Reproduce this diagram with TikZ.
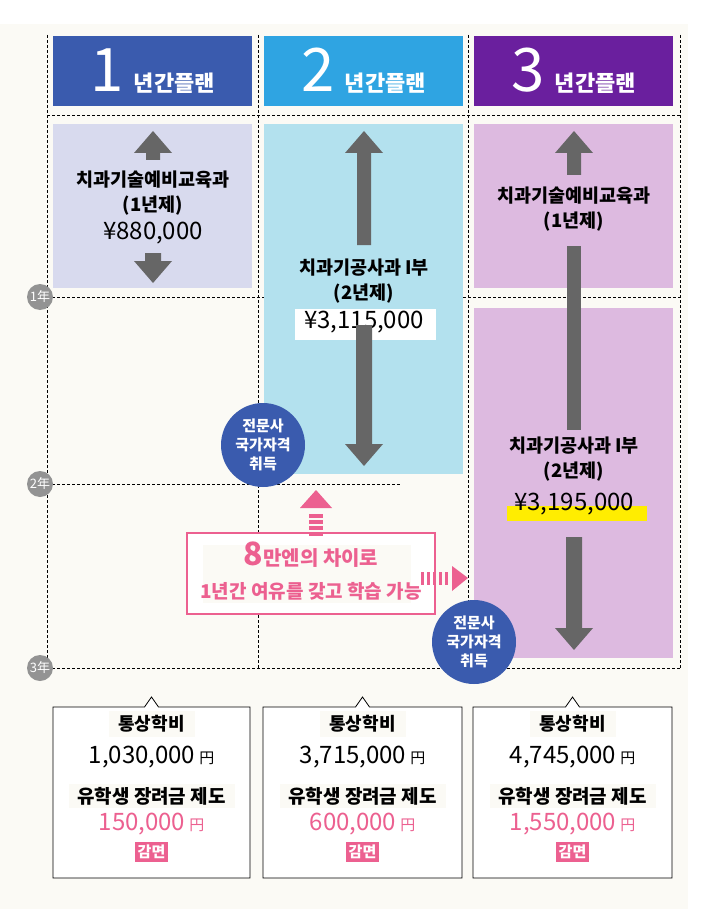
\documentclass[tikz,border=0pt]{standalone}
\usepackage{fontspec}
\setmainfont{Noto Sans CJK KR}
\newcommand{\kb}{\bfseries}
\usetikzlibrary{arrows.meta}
\definecolor{cream}{HTML}{FBFAF5}
\definecolor{hA}{HTML}{3A5BAE}
\definecolor{hB}{HTML}{2FA4E2}
\definecolor{hC}{HTML}{6A1F9E}
\definecolor{bA}{HTML}{D8DAEE}
\definecolor{bB}{HTML}{B3E1EE}
\definecolor{bC}{HTML}{DDBAE0}
\definecolor{gr}{HTML}{666666}
\definecolor{pk}{HTML}{EC6090}
\tikzset{
 grid/.style={densely dashed,black,line width=0.7pt},
 head/.style={minimum width=199pt,minimum height=70pt,inner sep=0,text=white},
 yr/.style={circle,fill=gray!85,text=white,minimum size=26pt,inner sep=0,font=\fontsize{13}{13}\selectfont},
 badge/.style={circle,fill=hA,text=white,minimum size=84pt,inner sep=0,align=center,font=\kb\fontsize{15}{19}\selectfont},
 tx/.style={font=\kb\fontsize{18.5}{25}\selectfont,align=center},
 money/.style={font=\fontsize{24}{26}\selectfont},
 bot/.style={draw=black,fill=white,line width=0.8pt},
}
\newcommand{\uparr}[4]{%
 \fill[gr] (#1-#4,#3) -- (#1-#4,#2+22) -- (#1-19,#2+22) -- (#1,#2) -- (#1+19,#2+22) -- (#1+#4,#2+22) -- (#1+#4,#3) -- cycle;}
\newcommand{\dnarr}[4]{%
 \fill[gr] (#1-#4,#2) -- (#1-#4,#3-22) -- (#1-19,#3-22) -- (#1,#3) -- (#1+19,#3-22) -- (#1+#4,#3-22) -- (#1+#4,#2) -- cycle;}
\begin{document}
\begin{tikzpicture}[x=1pt,y=-1pt]
\useasboundingbox (0,0) rectangle (711,909);
\fill[white] (0,0) rectangle (711,909);
\fill[cream] (0,24) rectangle (688,909);
% headers
\node[head,fill=hA,anchor=north west] (h1) at (53,36) {\fontsize{60}{60}\selectfont 1\,\kb\fontsize{22}{22}\selectfont 년간플랜};
\node[head,fill=hB,anchor=north west] (h2) at (264,36) {\fontsize{60}{60}\selectfont 2\,\kb\fontsize{22}{22}\selectfont 년간플랜};
\node[head,fill=hC,anchor=north west] (h3) at (474,36) {\fontsize{60}{60}\selectfont 3\,\kb\fontsize{22}{22}\selectfont 년간플랜};
% boxes
\fill[bA] (53,124) rectangle (252,288);
\fill[bB] (264,124) rectangle (463,474);
\fill[bC] (474,124) rectangle (673,288);
\fill[bC] (474,308) rectangle (673,658);
% grid
\foreach \x in {47,258,468,680} \draw[grid] (\x,35) -- (\x,668);
\draw[grid] (47,115) -- (680,115);
\draw[grid] (47,297) -- (264,297);
\draw[grid] (463,297) -- (680,297);
\draw[grid] (47,484) -- (400,484);
\draw[grid] (47,668) -- (680,668);
\node[yr] (y1) at (40,297) {1年};
\node[yr] (y2) at (40,484) {2年};
\node[yr] (y3) at (40,668) {3年};
% col1
\uparr{153}{131}{160}{7}
\dnarr{153}{253}{283}{8}
\node[tx] (t1) at (153,193) {치과기술예비교육과\\(1년제)};
\node[money] (m1) at (153,233) {¥880,000};
% col2
\uparr{364}{131}{245}{7}
\node[tx] (t2) at (364,281) {치과기공사과 I부\\(2년제)};
\fill[white] (295,309) rectangle (436,340);
\node[money] (m2) at (364,322) {¥3,115,000};
\dnarr{364}{325}{466}{8}
% col3
\uparr{574}{131}{175}{7}
\node[tx] (t3) at (574,209) {치과기술예비교육과\\(1년제)};
\fill[gr] (567,246) rectangle (581,430);
\node[tx] (t4) at (574,459) {치과기공사과 I부\\(2년제)};
\fill[yellow!95!orange] (507,506) rectangle (647,521);
\node[money] (m3) at (574,504) {¥3,195,000};
\dnarr{574}{537}{650}{8}
% badges
\node[badge] (b1) at (263,445) {전문사\\국가자격\\취득};
\node[badge] (b2) at (474,642) {전문사\\국가자격\\취득};
% callout
\draw[pk,fill=white,line width=1.2pt] (187,533) rectangle (435,614);
\fill[cream] (203,545) rectangle (411,603);
\node[text=pk,font=\kb,inner sep=0] (c1) at (311,555) {{\fontsize{32}{32}\selectfont 8}{\fontsize{20}{20}\selectfont 만엔의 차이로}};
\node[text=pk,font=\kb\fontsize{19}{19}\selectfont,inner sep=0] (c2) at (311,591) {1년간 여유를 갖고 학습 가능};
\foreach \yy in {514,520,526,532} \fill[pk] (309,\yy) rectangle (323,\yy+3.5);
\fill[pk] (309,508) -- (300,508) -- (316,490) -- (332,508) -- (323,508) -- cycle;
\foreach \xx in {421,427,433,439,445} \fill[pk] (\xx,572) rectangle (\xx+3,585);
\fill[pk] (452,566) -- (468,578) -- (452,591) -- cycle;
% bottom boxes
\foreach \xa/\xb/\p/\q/\n in {53/250/1{,}030{,}000/150{,}000/A,263/462/3{,}715{,}000/600{,}000/B,473/672/4{,}745{,}000/1{,}550{,}000/C}{
 \pgfmathsetmacro\xm{(\xa+\xb)/2}
 \draw[bot] (\xa,707) -- (\xm-7,707) -- (\xm,697) -- (\xm+7,707) -- (\xb,707) -- (\xb,878) -- (\xa,878) -- cycle;
 \fill[cream] (\xm-43,711) rectangle (\xm+43,737);
 \node[font=\kb\fontsize{18}{18}\selectfont] (s\n) at (\xm,724) {통상학비};
 \node[font=\fontsize{24}{24}\selectfont] (p\n) at (\xm,757) {\p\,{\fontsize{15}{15}\selectfont 円}};
 \fill[cream] (\xm-83,784) rectangle (\xm+83,808);
 \node[font=\kb\fontsize{19}{19}\selectfont] (r\n) at (\xm,796) {유학생 장려금 제도};
 \node[text=pk,font=\fontsize{24}{24}\selectfont] (q\n) at (\xm,824) {\q\,{\fontsize{15}{15}\selectfont 円}};
 \node[fill=pk,text=white,font=\kb\fontsize{15}{15}\selectfont,inner sep=3pt] (g\n) at (\xm,852) {감면};
}
\end{tikzpicture}
\end{document}
